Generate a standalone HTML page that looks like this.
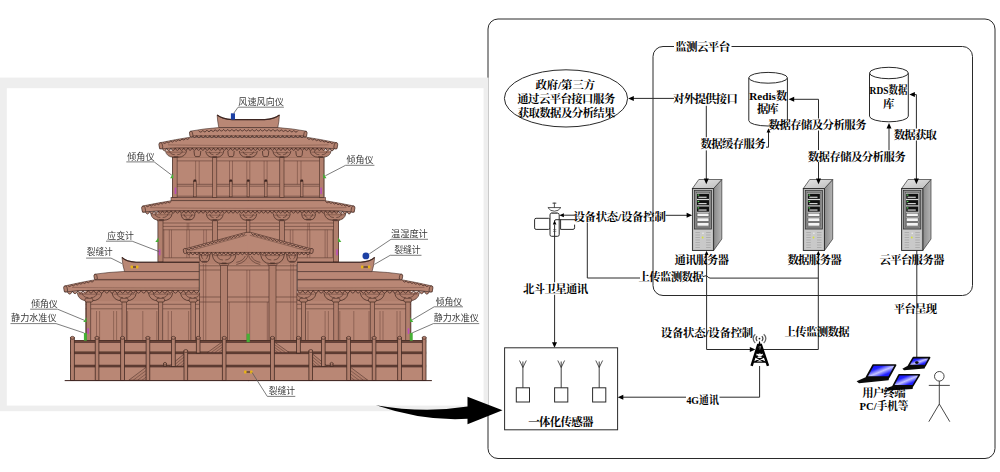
<!DOCTYPE html>
<html lang="zh"><head><meta charset="utf-8"><title>监测云平台</title>
<style>
html,body{margin:0;padding:0;background:#fff}
body{width:1000px;height:472px;overflow:hidden;font-family:"Liberation Serif",serif}
svg{display:block}
.t{font-family:"Liberation Serif","Noto Serif CJK SC",serif;font-weight:bold;fill:#000}
.k{font-family:"Liberation Sans","Noto Sans CJK SC",sans-serif;fill:#3a3a3a}
</style></head><body>
<svg width="1000" height="472" viewBox="0 0 1000 472">
<defs>

<linearGradient id="srvSide" x1="0" y1="0" x2="1" y2="0"><stop offset="0" stop-color="#8a8a8a"/><stop offset="1" stop-color="#b4b4b4"/></linearGradient>
<linearGradient id="srvTop" x1="0" y1="0" x2="1" y2="1"><stop offset="0" stop-color="#e6e6e6"/><stop offset="1" stop-color="#bdbdbd"/></linearGradient>
<linearGradient id="scr" x1="0" y1="0" x2="1" y2="1"><stop offset="0" stop-color="#0808f4"/><stop offset="0.32" stop-color="#2222ff"/><stop offset="0.52" stop-color="#c4c4ff"/><stop offset="0.72" stop-color="#2222ff"/><stop offset="1" stop-color="#0808f4"/></linearGradient>
<clipPath id="hclip"><rect x="0" y="80" width="248.65" height="330"/></clipPath><filter id="soft" x="-5%" y="-5%" width="110%" height="110%"><feGaussianBlur stdDeviation="0.45"/></filter>
</defs>
<rect width="1000" height="472" fill="#fff"/>
<rect x="488" y="19" width="507" height="439.5" rx="10" ry="10" fill="#fff" stroke="#2a2a2a" stroke-width="1"/>
<rect x="653" y="46.5" width="319.5" height="249" rx="10" ry="10" fill="none" stroke="#2a2a2a" stroke-width="1"/>
<rect x="674" y="40" width="57.5" height="13" fill="#fff"/>
<text class="t" x="675.2" y="51.11" font-size="11.5" textLength="55">监测云平台</text>
<g transform="translate(692.4,188.5)"><polygon points="21.2,0 29.4,-9 29.4,50.5 21.2,62" fill="url(#srvSide)" stroke="#333" stroke-width="0.7"/><polygon points="0,0 6.3999999999999995,-9 29.4,-9 21.2,0" fill="url(#srvTop)" stroke="#333" stroke-width="0.7"/><rect x="0" y="0" width="21.2" height="62" fill="#b9b9b9" stroke="#2b2b2b" stroke-width="0.9"/><rect x="2" y="2" width="17.2" height="38.5" fill="#8d8d8d" stroke="#2b2b2b" stroke-width="0.7"/><rect x="3.8" y="4" width="13.6" height="34.5" fill="#d9d9d9" stroke="#444" stroke-width="0.5"/><rect x="4.6" y="5.2" width="12.0" height="5.2" fill="#111"/><rect x="6" y="8.2" width="8.2" height="1.1" fill="#e8e8e8"/><rect x="5.2" y="6.0" width="1.6" height="1.2" fill="#5dd35d"/><rect x="4.6" y="11.6" width="12.0" height="5.2" fill="#111"/><rect x="6" y="14.6" width="8.2" height="1.1" fill="#e8e8e8"/><rect x="5.2" y="12.4" width="1.6" height="1.2" fill="#5dd35d"/><rect x="4.6" y="18.0" width="12.0" height="5.2" fill="#111"/><rect x="6" y="21.0" width="8.2" height="1.1" fill="#e8e8e8"/><rect x="5.2" y="18.8" width="1.6" height="1.2" fill="#5dd35d"/><rect x="4.6" y="24.6" width="12.0" height="3.4" fill="#f4f4f4" stroke="#333" stroke-width="0.6"/><rect x="4.6" y="29.4" width="12.0" height="3.4" fill="#f4f4f4" stroke="#333" stroke-width="0.6"/><rect x="4.6" y="34.2" width="12.0" height="3.4" fill="#f4f4f4" stroke="#333" stroke-width="0.6"/><rect x="1.2" y="41.5" width="18.8" height="19.4" fill="#c9c9c9"/><line x1="3" y1="44.0" x2="7.5" y2="44.0" stroke="#9a9a9a" stroke-width="0.6"/><line x1="13.7" y1="44.0" x2="18.2" y2="44.0" stroke="#9a9a9a" stroke-width="0.6"/><line x1="3" y1="46.5" x2="7.5" y2="46.5" stroke="#9a9a9a" stroke-width="0.6"/><line x1="13.7" y1="46.5" x2="18.2" y2="46.5" stroke="#9a9a9a" stroke-width="0.6"/><line x1="3" y1="49.0" x2="7.5" y2="49.0" stroke="#9a9a9a" stroke-width="0.6"/><line x1="13.7" y1="49.0" x2="18.2" y2="49.0" stroke="#9a9a9a" stroke-width="0.6"/><line x1="3" y1="51.5" x2="7.5" y2="51.5" stroke="#9a9a9a" stroke-width="0.6"/><line x1="13.7" y1="51.5" x2="18.2" y2="51.5" stroke="#9a9a9a" stroke-width="0.6"/><line x1="3" y1="54.0" x2="7.5" y2="54.0" stroke="#9a9a9a" stroke-width="0.6"/><line x1="13.7" y1="54.0" x2="18.2" y2="54.0" stroke="#9a9a9a" stroke-width="0.6"/><line x1="3" y1="56.5" x2="7.5" y2="56.5" stroke="#9a9a9a" stroke-width="0.6"/><line x1="13.7" y1="56.5" x2="18.2" y2="56.5" stroke="#9a9a9a" stroke-width="0.6"/><line x1="3" y1="59.0" x2="7.5" y2="59.0" stroke="#9a9a9a" stroke-width="0.6"/><line x1="13.7" y1="59.0" x2="18.2" y2="59.0" stroke="#9a9a9a" stroke-width="0.6"/><circle cx="10.2" cy="49" r="0.9" fill="#d8e23a"/><circle cx="10.6" cy="44.8" r="0.8" fill="#eee"/></g>
<g transform="translate(803.3,188.5)"><polygon points="21.2,0 29.4,-9 29.4,50.5 21.2,62" fill="url(#srvSide)" stroke="#333" stroke-width="0.7"/><polygon points="0,0 6.3999999999999995,-9 29.4,-9 21.2,0" fill="url(#srvTop)" stroke="#333" stroke-width="0.7"/><rect x="0" y="0" width="21.2" height="62" fill="#b9b9b9" stroke="#2b2b2b" stroke-width="0.9"/><rect x="2" y="2" width="17.2" height="38.5" fill="#8d8d8d" stroke="#2b2b2b" stroke-width="0.7"/><rect x="3.8" y="4" width="13.6" height="34.5" fill="#d9d9d9" stroke="#444" stroke-width="0.5"/><rect x="4.6" y="5.2" width="12.0" height="5.2" fill="#111"/><rect x="6" y="8.2" width="8.2" height="1.1" fill="#e8e8e8"/><rect x="5.2" y="6.0" width="1.6" height="1.2" fill="#5dd35d"/><rect x="4.6" y="11.6" width="12.0" height="5.2" fill="#111"/><rect x="6" y="14.6" width="8.2" height="1.1" fill="#e8e8e8"/><rect x="5.2" y="12.4" width="1.6" height="1.2" fill="#5dd35d"/><rect x="4.6" y="18.0" width="12.0" height="5.2" fill="#111"/><rect x="6" y="21.0" width="8.2" height="1.1" fill="#e8e8e8"/><rect x="5.2" y="18.8" width="1.6" height="1.2" fill="#5dd35d"/><rect x="4.6" y="24.6" width="12.0" height="3.4" fill="#f4f4f4" stroke="#333" stroke-width="0.6"/><rect x="4.6" y="29.4" width="12.0" height="3.4" fill="#f4f4f4" stroke="#333" stroke-width="0.6"/><rect x="4.6" y="34.2" width="12.0" height="3.4" fill="#f4f4f4" stroke="#333" stroke-width="0.6"/><rect x="1.2" y="41.5" width="18.8" height="19.4" fill="#c9c9c9"/><line x1="3" y1="44.0" x2="7.5" y2="44.0" stroke="#9a9a9a" stroke-width="0.6"/><line x1="13.7" y1="44.0" x2="18.2" y2="44.0" stroke="#9a9a9a" stroke-width="0.6"/><line x1="3" y1="46.5" x2="7.5" y2="46.5" stroke="#9a9a9a" stroke-width="0.6"/><line x1="13.7" y1="46.5" x2="18.2" y2="46.5" stroke="#9a9a9a" stroke-width="0.6"/><line x1="3" y1="49.0" x2="7.5" y2="49.0" stroke="#9a9a9a" stroke-width="0.6"/><line x1="13.7" y1="49.0" x2="18.2" y2="49.0" stroke="#9a9a9a" stroke-width="0.6"/><line x1="3" y1="51.5" x2="7.5" y2="51.5" stroke="#9a9a9a" stroke-width="0.6"/><line x1="13.7" y1="51.5" x2="18.2" y2="51.5" stroke="#9a9a9a" stroke-width="0.6"/><line x1="3" y1="54.0" x2="7.5" y2="54.0" stroke="#9a9a9a" stroke-width="0.6"/><line x1="13.7" y1="54.0" x2="18.2" y2="54.0" stroke="#9a9a9a" stroke-width="0.6"/><line x1="3" y1="56.5" x2="7.5" y2="56.5" stroke="#9a9a9a" stroke-width="0.6"/><line x1="13.7" y1="56.5" x2="18.2" y2="56.5" stroke="#9a9a9a" stroke-width="0.6"/><line x1="3" y1="59.0" x2="7.5" y2="59.0" stroke="#9a9a9a" stroke-width="0.6"/><line x1="13.7" y1="59.0" x2="18.2" y2="59.0" stroke="#9a9a9a" stroke-width="0.6"/><circle cx="10.2" cy="49" r="0.9" fill="#d8e23a"/><circle cx="10.6" cy="44.8" r="0.8" fill="#eee"/></g>
<g transform="translate(901.6,188.5)"><polygon points="21.2,0 29.4,-9 29.4,50.5 21.2,62" fill="url(#srvSide)" stroke="#333" stroke-width="0.7"/><polygon points="0,0 6.3999999999999995,-9 29.4,-9 21.2,0" fill="url(#srvTop)" stroke="#333" stroke-width="0.7"/><rect x="0" y="0" width="21.2" height="62" fill="#b9b9b9" stroke="#2b2b2b" stroke-width="0.9"/><rect x="2" y="2" width="17.2" height="38.5" fill="#8d8d8d" stroke="#2b2b2b" stroke-width="0.7"/><rect x="3.8" y="4" width="13.6" height="34.5" fill="#d9d9d9" stroke="#444" stroke-width="0.5"/><rect x="4.6" y="5.2" width="12.0" height="5.2" fill="#111"/><rect x="6" y="8.2" width="8.2" height="1.1" fill="#e8e8e8"/><rect x="5.2" y="6.0" width="1.6" height="1.2" fill="#5dd35d"/><rect x="4.6" y="11.6" width="12.0" height="5.2" fill="#111"/><rect x="6" y="14.6" width="8.2" height="1.1" fill="#e8e8e8"/><rect x="5.2" y="12.4" width="1.6" height="1.2" fill="#5dd35d"/><rect x="4.6" y="18.0" width="12.0" height="5.2" fill="#111"/><rect x="6" y="21.0" width="8.2" height="1.1" fill="#e8e8e8"/><rect x="5.2" y="18.8" width="1.6" height="1.2" fill="#5dd35d"/><rect x="4.6" y="24.6" width="12.0" height="3.4" fill="#f4f4f4" stroke="#333" stroke-width="0.6"/><rect x="4.6" y="29.4" width="12.0" height="3.4" fill="#f4f4f4" stroke="#333" stroke-width="0.6"/><rect x="4.6" y="34.2" width="12.0" height="3.4" fill="#f4f4f4" stroke="#333" stroke-width="0.6"/><rect x="1.2" y="41.5" width="18.8" height="19.4" fill="#c9c9c9"/><line x1="3" y1="44.0" x2="7.5" y2="44.0" stroke="#9a9a9a" stroke-width="0.6"/><line x1="13.7" y1="44.0" x2="18.2" y2="44.0" stroke="#9a9a9a" stroke-width="0.6"/><line x1="3" y1="46.5" x2="7.5" y2="46.5" stroke="#9a9a9a" stroke-width="0.6"/><line x1="13.7" y1="46.5" x2="18.2" y2="46.5" stroke="#9a9a9a" stroke-width="0.6"/><line x1="3" y1="49.0" x2="7.5" y2="49.0" stroke="#9a9a9a" stroke-width="0.6"/><line x1="13.7" y1="49.0" x2="18.2" y2="49.0" stroke="#9a9a9a" stroke-width="0.6"/><line x1="3" y1="51.5" x2="7.5" y2="51.5" stroke="#9a9a9a" stroke-width="0.6"/><line x1="13.7" y1="51.5" x2="18.2" y2="51.5" stroke="#9a9a9a" stroke-width="0.6"/><line x1="3" y1="54.0" x2="7.5" y2="54.0" stroke="#9a9a9a" stroke-width="0.6"/><line x1="13.7" y1="54.0" x2="18.2" y2="54.0" stroke="#9a9a9a" stroke-width="0.6"/><line x1="3" y1="56.5" x2="7.5" y2="56.5" stroke="#9a9a9a" stroke-width="0.6"/><line x1="13.7" y1="56.5" x2="18.2" y2="56.5" stroke="#9a9a9a" stroke-width="0.6"/><line x1="3" y1="59.0" x2="7.5" y2="59.0" stroke="#9a9a9a" stroke-width="0.6"/><line x1="13.7" y1="59.0" x2="18.2" y2="59.0" stroke="#9a9a9a" stroke-width="0.6"/><circle cx="10.2" cy="49" r="0.9" fill="#d8e23a"/><circle cx="10.6" cy="44.8" r="0.8" fill="#eee"/></g>
<ellipse cx="566" cy="98.4" rx="61.6" ry="28.6" fill="#fff" stroke="#2a2a2a" stroke-width="1"/>
<text class="t" x="535.4" y="88.67" font-size="11.4" textLength="59.7">政府/第三方</text>
<text class="t" x="517.3" y="102.87" font-size="11.4" textLength="97.8">通过云平台接口服务</text>
<text class="t" x="517.7" y="116.67" font-size="11.4" textLength="97.8">获取数据及分析结果</text>
<polyline points="674.0,98.4 632.0,98.4" fill="none" stroke="#2a2a2a" stroke-width="1" />
<polygon points="628.2,98.4 633.8,95.9 633.8,100.9" fill="#000"/>
<text class="t" x="672.9" y="102.77" font-size="11.4" textLength="65.1">对外提供接口</text>
<polyline points="706.3,105.8 706.3,137.3" fill="none" stroke="#2a2a2a" stroke-width="1" />
<polyline points="706.3,150.4 706.3,180.0" fill="none" stroke="#2a2a2a" stroke-width="1" />
<polygon points="706.3,184.2 703.8,178.6 708.8,178.6" fill="#000"/>
<text class="t" x="700.6" y="148.07" font-size="11.4" textLength="65.1">数据缓存服务</text>
<polyline points="766.0,147.2 768.5,147.2 768.5,132.0" fill="none" stroke="#2a2a2a" stroke-width="1" />
<polygon points="768.5,128.2 766.6,132.4 770.4,132.4" fill="#000"/>
<path d="M748.8,77.8 L748.8,120.6 A19.3,5.4 0 0 0 787.4,120.6 L787.4,77.8" fill="#fff" stroke="#2a2a2a" stroke-width="1"/>
<ellipse cx="768.1" cy="77.8" rx="19.3" ry="5.4" fill="#fff" stroke="#2a2a2a" stroke-width="1"/>
<text class="t" x="749.3" y="99.77" font-size="11.4" textLength="37.8" lengthAdjust="spacingAndGlyphs">Redis数</text>
<text class="t" x="757.1" y="113.47" font-size="11.4" textLength="21.5">据库</text>
<path d="M869.5,73 L869.5,116.2 A19.4,5.6 0 0 0 908.3,116.2 L908.3,73" fill="#fff" stroke="#2a2a2a" stroke-width="1"/>
<ellipse cx="888.9" cy="73" rx="19.4" ry="5.7" fill="#fff" stroke="#2a2a2a" stroke-width="1"/>
<text class="t" x="869.6" y="93.97" font-size="11.4" textLength="37.8" lengthAdjust="spacingAndGlyphs">RDS数据</text>
<text class="t" x="882.9" y="107.67" font-size="11.4">库</text>
<polyline points="793.0,99.3 818.5,99.3 818.5,118.5" fill="none" stroke="#2a2a2a" stroke-width="1" />
<polygon points="788.6,99.3 794.2,96.8 794.2,101.8" fill="#000"/>
<polyline points="818.5,130.5 818.5,150.0" fill="none" stroke="#2a2a2a" stroke-width="1" />
<polyline points="818.5,162.0 818.5,180.0" fill="none" stroke="#2a2a2a" stroke-width="1" />
<polygon points="818.5,184.2 816.0,178.6 821.0,178.6" fill="#000"/>
<text class="t" x="768.6" y="129.07" font-size="11.4" textLength="97.8">数据存储及分析服务</text>
<text class="t" x="807.8" y="160.57" font-size="11.4" textLength="97.8">数据存储及分析服务</text>
<polyline points="889.0,127.0 889.0,150.3" fill="none" stroke="#2a2a2a" stroke-width="1" />
<polygon points="889.0,123.0 886.5,128.6 891.5,128.6" fill="#000"/>
<polyline points="913.5,94.6 916.4,94.6 916.4,128.5" fill="none" stroke="#2a2a2a" stroke-width="1" />
<polygon points="909.3,94.6 914.9,92.1 914.9,97.1" fill="#000"/>
<polyline points="916.4,140.5 916.4,180.0" fill="none" stroke="#2a2a2a" stroke-width="1" />
<polygon points="916.4,184.2 913.9,178.6 918.9,178.6" fill="#000"/>
<text class="t" x="893.7" y="139.07" font-size="11.4" textLength="43.3">数据获取</text>
<polyline points="706.6,254.0 706.6,349.5 751.0,349.5" fill="none" stroke="#2a2a2a" stroke-width="1" />
<polygon points="706.6,250.8 704.7,255.0 708.5,255.0" fill="#000"/>
<polygon points="755.4,349.5 749.8,347.0 749.8,352.0" fill="#000"/>
<polyline points="818.3,254.0 818.3,349.5 762.5,349.5" fill="none" stroke="#2a2a2a" stroke-width="1" />
<polygon points="818.3,250.8 816.4,255.0 820.2,255.0" fill="#000"/>
<polyline points="916.8,250.8 916.8,358.5" fill="none" stroke="#2a2a2a" stroke-width="1" />
<text class="t" x="674.6" y="263.87" font-size="11.4" textLength="54.2">通讯服务器</text>
<text class="t" x="787.4" y="263.87" font-size="11.4" textLength="54.2">数据服务器</text>
<text class="t" x="879.4" y="263.87" font-size="11.4" textLength="65.1">云平台服务器</text>
<path d="M703,276.6 Q705,276 706.6,275.6 Q708,277.8 710,278.1 L818.3,278.1" fill="none" stroke="#2a2a2a" stroke-width="1"/>
<text class="t" x="638.5" y="281.47" font-size="11.4" textLength="65.1">上传监测数据</text>
<polyline points="640.0,278.0 587.3,278.0 587.3,222.6" fill="none" stroke="#2a2a2a" stroke-width="1" />
<rect x="534.6" y="218.3" width="15.4" height="11.1" rx="1.5" fill="#fff" stroke="#2a2a2a" stroke-width="1"/><path d="M560.6,219.5 L560.6,229.4 L573,229.4 Q574.6,229.4 574.6,227.8 L574.6,224.6" fill="none" stroke="#2a2a2a" stroke-width="1"/><rect x="550" y="213.2" width="9.2" height="23.1" rx="1.6" fill="#fff" stroke="#2a2a2a" stroke-width="1"/><path d="M547.9,207.6 L560.9,207.6 Q558.5,211.2 554.4,211.2 Q550.3,211.2 547.9,207.6 Z" fill="#fff" stroke="#2a2a2a" stroke-width="0.8"/><path d="M551.2,212.4 Q554.4,213.4 557.6,212.4" fill="none" stroke="#666" stroke-width="0.7"/><polyline points="554.4,207.6 554.4,203.4" fill="none" stroke="#2a2a2a" stroke-width="0.8" /><ellipse cx="554.4" cy="203.1" rx="2.2" ry="0.7" fill="#2a2a2a"/><polyline points="575.0,219.7 556.0,219.7" fill="none" stroke="#2a2a2a" stroke-width="1" /><path d="M556,219.7 Q554.6,219.7 554.6,221" fill="none" stroke="#2a2a2a" stroke-width="1"/><polygon points="554.6,220.2 552.8,224.4 556.4,224.4" fill="#000"/><polyline points="553.0,229.6 556.3,229.6" fill="none" stroke="#555" stroke-width="0.6" /><polyline points="553.0,231.4 556.3,231.4" fill="none" stroke="#555" stroke-width="0.6" />
<polyline points="563.5,215.2 575.0,215.2" fill="none" stroke="#2a2a2a" stroke-width="1" />
<polygon points="559.3,215.2 563.9,213.2 563.9,217.2" fill="#000"/>
<polyline points="665.5,215.3 688.0,215.3" fill="none" stroke="#2a2a2a" stroke-width="1" />
<polygon points="692.2,215.3 686.6,212.8 686.6,217.8" fill="#000"/>
<text class="t" x="573.4" y="221.47" font-size="11.4" textLength="92.4">设备状态/设备控制</text>
<polyline points="554.6,224.5 554.6,282.3" fill="none" stroke="#2a2a2a" stroke-width="1" />
<polyline points="554.6,294.8 554.6,343.5" fill="none" stroke="#2a2a2a" stroke-width="1" />
<polygon points="554.5,347.8 552.0,342.2 557.0,342.2" fill="#000"/>
<text class="t" x="523.1" y="293.07" font-size="11.4" textLength="65.1">北斗卫星通讯</text>
<rect x="504.6" y="347.8" width="113" height="82" fill="#fff" stroke="#2a2a2a" stroke-width="1"/>
<rect x="516.3" y="387.8" width="13.2" height="14.2" fill="#fff" stroke="#2a2a2a" stroke-width="1"/>
<polyline points="522.9,387.8 522.9,361.5" fill="none" stroke="#2a2a2a" stroke-width="0.9" />
<polyline points="519.5,360.5 522.9,367.5 526.3,360.5" fill="none" stroke="#2a2a2a" stroke-width="0.8" />
<rect x="554.6" y="387.8" width="13.2" height="14.2" fill="#fff" stroke="#2a2a2a" stroke-width="1"/>
<polyline points="561.2,387.8 561.2,361.5" fill="none" stroke="#2a2a2a" stroke-width="0.9" />
<polyline points="557.8,360.5 561.2,367.5 564.6,360.5" fill="none" stroke="#2a2a2a" stroke-width="0.8" />
<rect x="592.6" y="387.8" width="13.2" height="14.2" fill="#fff" stroke="#2a2a2a" stroke-width="1"/>
<polyline points="599.2,387.8 599.2,361.5" fill="none" stroke="#2a2a2a" stroke-width="0.9" />
<polyline points="595.8,360.5 599.2,367.5 602.6,360.5" fill="none" stroke="#2a2a2a" stroke-width="0.8" />
<text class="t" x="528.2" y="426.27" font-size="11.4" textLength="65.1">一体化传感器</text>
<text class="t" x="893.8" y="312.77" font-size="11.4" textLength="43.3">平台呈现</text>
<text class="t" x="660.8" y="336.97" font-size="11.4" textLength="92.4">设备状态/设备控制</text>
<text class="t" x="784.6" y="335.67" font-size="11.4" textLength="65.1">上传监测数据</text>
<path d="M757.2,336.3 A2.9,2.9 0 0 0 757.2,340.9" fill="none" stroke="#3c3c3c" stroke-width="1.2"/><path d="M761.8,336.3 A2.9,2.9 0 0 1 761.8,340.9" fill="none" stroke="#3c3c3c" stroke-width="1.2"/><path d="M755.3,334.3 A5.4,5.4 0 0 0 755.3,342.9" fill="none" stroke="#666" stroke-width="1.3"/><path d="M763.7,334.3 A5.4,5.4 0 0 1 763.7,342.9" fill="none" stroke="#666" stroke-width="1.3"/><circle cx="759.5" cy="338.6" r="0.9" fill="#222"/><polygon points="759.5,340.6 755.6,353 763.6,353" fill="#000"/><path d="M758.4,344 L751.6,365.8 M760.6,344 L768,365.8" stroke="#000" stroke-width="2.5" fill="none" stroke-linecap="butt"/><path d="M755,356.4 L764.2,356.4 M753.2,362.2 L766,362.2 M756,352.5 L764.4,356.8 L753.6,362.4 M763.4,352.5 L755,356.8 L765.8,362.4" stroke="#000" stroke-width="1.2" fill="none"/><ellipse cx="759.7" cy="355.4" rx="2.3" ry="1.3" fill="#fff"/><path d="M758.6,347.2 L760.6,346.4 L759.8,349.4" stroke="#fff" stroke-width="0.5" fill="none"/>
<polyline points="759.6,366.0 759.6,397.2 719.5,397.2" fill="none" stroke="#2a2a2a" stroke-width="1" />
<polyline points="686.0,397.2 622.0,397.2" fill="none" stroke="#2a2a2a" stroke-width="1" />
<polygon points="617.7,397.2 623.3,394.7 623.3,399.7" fill="#000"/>
<text class="t" x="686.4" y="404.07" font-size="11.4" textLength="32.4" lengthAdjust="spacingAndGlyphs">4G通讯</text>
<polygon points="866.2,377.0 889.4,377.0 888.6,380.3 859.0,383.2 856.6,381.2" fill="#0a0a0a"/><polygon points="873.2,365.0 895.6,365.0 889.0,377.0 866.6,377.0" fill="url(#scr)" stroke="#0a0a0a" stroke-width="1.6" stroke-linejoin="round"/>
<polygon points="908.2,365.6 925.6,365.6 924.6,368.4 904.0,370.2 902.4,368.8" fill="#0a0a0a"/><polygon points="913.3,357.6 929.6,357.6 925.2,365.6 908.6,365.6" fill="url(#scr)" stroke="#0a0a0a" stroke-width="1.6" stroke-linejoin="round"/>
<polygon points="893.0,385.8 913.2,385.8 912.6,389.0 888.0,390.4 885.8,388.4" fill="#0a0a0a"/><polygon points="899.0,374.8 919.4,374.8 912.8,385.8 893.2,385.8" fill="url(#scr)" stroke="#0a0a0a" stroke-width="1.6" stroke-linejoin="round"/>
<ellipse cx="916.8" cy="362.6" rx="1.8" ry="1.4" fill="#0a0a0a"/>
<text class="t" x="862.3" y="397.07" font-size="11.4" textLength="43.3">用户终端</text>
<text class="t" x="859.6" y="410.47" font-size="11.4" textLength="48.8" lengthAdjust="spacingAndGlyphs">PC/手机等</text>
<circle cx="939.3" cy="376.3" r="4.8" fill="#fff" stroke="#333" stroke-width="0.9"/>
<polyline points="939.3,381.1 939.3,404.0" fill="none" stroke="#333" stroke-width="0.9" />
<polyline points="928.8,385.4 949.8,385.4" fill="none" stroke="#333" stroke-width="0.9" />
<polyline points="928.8,421.7 939.3,404.0 949.8,421.7" fill="none" stroke="#333" stroke-width="0.9" />
<rect x="0" y="77.6" width="488.6" height="333.6" fill="#eeeeee"/>
<rect x="6.8" y="88.2" width="476.8" height="317.4" fill="#ffffff"/>
<g filter="url(#soft)">
<g id="bhalf" clip-path="url(#hclip)"><rect x="158.0" y="219.0" width="93.3" height="43.5" fill="#b98775" stroke="#3e2620" stroke-width="0.5" />
<line x1="158.0" y1="223.0" x2="251.3" y2="223.0" stroke="#3e2620" stroke-width="0.45"/>
<line x1="158.0" y1="226.4" x2="251.3" y2="226.4" stroke="#3e2620" stroke-width="0.45"/>
<line x1="158.0" y1="229.8" x2="251.3" y2="229.8" stroke="#3e2620" stroke-width="0.45"/>
<line x1="163.9" y1="257.8" x2="206.3" y2="257.8" stroke="#3e2620" stroke-width="0.45"/>
<line x1="163.9" y1="229.8" x2="163.9" y2="257.8" stroke="#5e3b31" stroke-width="0.45"/>
<line x1="169.3" y1="229.8" x2="169.3" y2="257.8" stroke="#5e3b31" stroke-width="0.45"/>
<line x1="171.5" y1="229.8" x2="171.5" y2="257.8" stroke="#5e3b31" stroke-width="0.45"/>
<line x1="186.8" y1="229.8" x2="186.8" y2="257.8" stroke="#5e3b31" stroke-width="0.45"/>
<line x1="189.3" y1="229.8" x2="189.3" y2="257.8" stroke="#5e3b31" stroke-width="0.45"/>
<line x1="203.7" y1="229.8" x2="203.7" y2="257.8" stroke="#5e3b31" stroke-width="0.45"/>
<line x1="206.3" y1="229.8" x2="206.3" y2="257.8" stroke="#5e3b31" stroke-width="0.45"/>
<line x1="187.2" y1="223.0" x2="187.2" y2="229.8" stroke="#5e3b31" stroke-width="0.4"/>
<line x1="188.8" y1="223.0" x2="188.8" y2="229.8" stroke="#5e3b31" stroke-width="0.4"/>
<rect x="158.0" y="220.5" width="5.0" height="41.5" fill="#b17f6d" stroke="#3e2620" stroke-width="0.55" /><rect x="157.0" y="218.9" width="7.0" height="1.8" fill="#b17f6d" stroke="#3e2620" stroke-width="0.5" rx="0.6"/>
<rect x="212.3" y="220.5" width="5.0" height="24.5" fill="#b17f6d" stroke="#3e2620" stroke-width="0.55" /><rect x="211.3" y="218.9" width="7.0" height="1.8" fill="#b17f6d" stroke="#3e2620" stroke-width="0.5" rx="0.6"/>
<rect x="246.7" y="214.0" width="3.2" height="19.0" fill="#b17f6d" stroke="#3e2620" stroke-width="0.5" />
<rect x="158.0" y="209.5" width="93.3" height="11.0" fill="#b17f6d" stroke="none" stroke-width="0.5" />
<path d="M150.7,213.2 Q151.8,220.2 159.5,220.2 L163.5,220.2 Q171.2,220.2 172.3,213.2" fill="#b17f6d" stroke="#3e2620" stroke-width="0.7"/><path d="M155.0,213.6 Q155.6,217.4 160.3,217.5 M168.0,213.6 Q167.4,217.4 162.7,217.5" fill="none" stroke="#3e2620" stroke-width="0.55"/><path d="M152.3,214.8 L170.7,214.8" fill="none" stroke="#3e2620" stroke-width="0.5" opacity="0.7"/><rect x="159.1" y="219.0" width="4.8" height="1.6" fill="#3e2620" opacity="0.55"/>
<path d="M181.0,213.6 Q181.7,219.8 186.0,219.8 L190.0,219.8 Q194.3,219.8 195.0,213.6" fill="#b17f6d" stroke="#3e2620" stroke-width="0.7"/><path d="M183.8,214.0 Q184.2,217.3 186.8,217.4 M192.2,214.0 Q191.8,217.3 189.2,217.4" fill="none" stroke="#3e2620" stroke-width="0.55"/><path d="M182.1,215.2 L193.9,215.2" fill="none" stroke="#3e2620" stroke-width="0.5" opacity="0.7"/><rect x="185.6" y="218.6" width="4.8" height="1.6" fill="#3e2620" opacity="0.55"/>
<path d="M206.3,213.6 Q207.2,220.2 212.8,220.2 L216.8,220.2 Q222.5,220.2 223.3,213.6" fill="#b17f6d" stroke="#3e2620" stroke-width="0.7"/><path d="M209.7,214.0 Q210.1,217.6 213.6,217.7 M219.9,214.0 Q219.5,217.6 216.0,217.7" fill="none" stroke="#3e2620" stroke-width="0.55"/><path d="M207.6,215.2 L222.0,215.2" fill="none" stroke="#3e2620" stroke-width="0.5" opacity="0.7"/><rect x="212.4" y="219.0" width="4.8" height="1.6" fill="#3e2620" opacity="0.55"/>
<path d="M239.8,213.6 Q240.7,220.2 246.3,220.2 L250.3,220.2 Q256.0,220.2 256.8,213.6" fill="#b17f6d" stroke="#3e2620" stroke-width="0.7"/><path d="M243.2,214.0 Q243.6,217.6 247.1,217.7 M253.4,214.0 Q253.0,217.6 249.5,217.7" fill="none" stroke="#3e2620" stroke-width="0.55"/><path d="M241.1,215.2 L255.5,215.2" fill="none" stroke="#3e2620" stroke-width="0.5" opacity="0.7"/><rect x="245.9" y="219.0" width="4.8" height="1.6" fill="#3e2620" opacity="0.55"/>
<rect x="171.0" y="197.4" width="80.3" height="3.4" fill="#b17f6d" stroke="#3e2620" stroke-width="0.5" />
<path d="M172.2,200.6 Q158.8,202.7 142.4,206.0 L142.4,212.2 Q158.0,210.6 173.7,210.8 L251.3,210.8 L251.3,200.6 Z" fill="#b98775" stroke="#3e2620" stroke-width="0.6" />
<path d="M145.4,211.9 Q147.5,216.3 149.7,211.6 Q151.8,216.0 154.0,211.3 Q156.1,215.7 158.2,211.0 Q160.4,215.6 162.5,210.9 Q164.6,215.4 166.8,210.8 Q168.9,215.4 171.1,210.8 Q173.2,215.4 175.3,210.8 Q177.5,215.4 179.6,210.8 Q181.7,215.4 183.9,210.8 Q186.0,215.4 188.2,210.8 Q190.3,215.4 192.4,210.8 Q194.6,215.4 196.7,210.8 Q198.8,215.4 201.0,210.8 Q203.1,215.4 205.3,210.8 Q207.4,215.4 209.5,210.8 Q211.7,215.4 213.8,210.8 Q216.0,215.4 218.1,210.8 Q220.2,215.4 222.4,210.8 Q224.5,215.4 226.6,210.8 Q228.8,215.4 230.9,210.8 Q233.1,215.4 235.2,210.8 Q237.3,215.4 239.5,210.8 Q241.6,215.4 243.7,210.8 Q245.9,215.4 248.0,210.8 Q250.2,215.4 252.3,210.8" fill="#b98775" stroke="#3e2620" stroke-width="0.75" stroke-linejoin="round"/><polyline points="145.4,211.9 154.3,211.2 163.2,210.9 172.1,210.8 181.0,210.8 189.9,210.8 198.9,210.8 207.8,210.8 216.7,210.8 225.6,210.8 234.5,210.8 243.4,210.8 252.3,210.8" fill="none" stroke="#3e2620" stroke-width="0.5" opacity="0.8"/>
<path d="M146.0,205.9 Q147.8,207.9 149.6,205.2 Q151.4,207.2 153.2,204.5 Q155.0,206.5 156.8,203.8 Q158.6,205.9 160.4,203.2 Q162.2,205.2 164.0,202.5 Q165.8,204.6 167.6,201.9 Q169.4,204.0 171.2,201.4" fill="#b98775" stroke="#3e2620" stroke-width="0.75" stroke-linejoin="round"/>
<path d="M150,207.6 Q165,208.2 251.3,208.3" fill="none" stroke="#5e3b31" stroke-width="0.4" />
<rect x="141.9" y="206.1" width="3.4" height="6.2" rx="1.7" fill="#b17f6d" stroke="#3e2620" stroke-width="0.6" transform="rotate(-12 143.6 209.2)"/>
<rect x="172.5" y="157.0" width="78.8" height="40.6" fill="#b98775" stroke="#3e2620" stroke-width="0.5" />
<line x1="172.5" y1="160.9" x2="251.3" y2="160.9" stroke="#3e2620" stroke-width="0.45"/>
<line x1="177.0" y1="184.3" x2="251.3" y2="184.3" stroke="#3e2620" stroke-width="0.5"/>
<line x1="177.0" y1="186.2" x2="251.3" y2="186.2" stroke="#3e2620" stroke-width="0.45"/>
<line x1="177.0" y1="196.2" x2="251.3" y2="196.2" stroke="#3e2620" stroke-width="0.5"/>
<line x1="195.6" y1="160.9" x2="195.6" y2="184.3" stroke="#5e3b31" stroke-width="0.45"/>
<line x1="199.2" y1="160.9" x2="199.2" y2="184.3" stroke="#5e3b31" stroke-width="0.45"/>
<line x1="229.5" y1="160.9" x2="229.5" y2="184.3" stroke="#5e3b31" stroke-width="0.45"/>
<line x1="232.5" y1="160.9" x2="232.5" y2="184.3" stroke="#5e3b31" stroke-width="0.45"/>
<line x1="246.8" y1="160.9" x2="246.8" y2="184.3" stroke="#5e3b31" stroke-width="0.45"/>
<line x1="249.8" y1="160.9" x2="249.8" y2="184.3" stroke="#5e3b31" stroke-width="0.45"/>
<rect x="193.6" y="181.2" width="2.6" height="15.6" fill="#b17f6d" stroke="#3e2620" stroke-width="0.5" />
<rect x="193.4" y="179.6" width="3.0" height="2.0" fill="#3e2620" stroke="none" stroke-width="0.5" rx="1"/>
<rect x="229.5" y="181.2" width="2.6" height="15.6" fill="#b17f6d" stroke="#3e2620" stroke-width="0.5" />
<rect x="229.3" y="179.6" width="3.0" height="2.0" fill="#3e2620" stroke="none" stroke-width="0.5" rx="1"/>
<rect x="247.0" y="181.2" width="2.6" height="15.6" fill="#b17f6d" stroke="#3e2620" stroke-width="0.5" />
<rect x="246.8" y="179.6" width="3.0" height="2.0" fill="#3e2620" stroke="none" stroke-width="0.5" rx="1"/>
<rect x="172.7" y="157.5" width="4.4" height="39.9" fill="#b17f6d" stroke="#3e2620" stroke-width="0.55" />
<rect x="212.6" y="157.5" width="4.2" height="39.9" fill="#b17f6d" stroke="#3e2620" stroke-width="0.55" />
<rect x="172.5" y="146.5" width="78.8" height="10.9" fill="#b17f6d" stroke="none" stroke-width="0.5" />
<path d="M165.4,150.6 Q166.5,157.2 174.0,157.2 L178.0,157.2 Q185.5,157.2 186.6,150.6" fill="#b17f6d" stroke="#3e2620" stroke-width="0.7"/><path d="M169.6,151.0 Q170.2,154.6 174.8,154.7 M182.4,151.0 Q181.8,154.6 177.2,154.7" fill="none" stroke="#3e2620" stroke-width="0.55"/><path d="M167.0,152.2 L185.0,152.2" fill="none" stroke="#3e2620" stroke-width="0.5" opacity="0.7"/><rect x="173.6" y="156.0" width="4.8" height="1.6" fill="#3e2620" opacity="0.55"/>
<path d="M194.0,151.0 Q194.3,156.6 195.4,156.6 L199.4,156.6 Q200.5,156.6 200.8,151.0" fill="#b17f6d" stroke="#3e2620" stroke-width="0.7"/>
<path d="M205.7,151.0 Q206.6,157.2 212.7,157.2 L216.7,157.2 Q222.8,157.2 223.7,151.0" fill="#b17f6d" stroke="#3e2620" stroke-width="0.7"/><path d="M209.3,151.4 Q209.8,154.7 213.5,154.8 M220.1,151.4 Q219.6,154.7 215.9,154.8" fill="none" stroke="#3e2620" stroke-width="0.55"/><path d="M207.0,152.6 L222.3,152.6" fill="none" stroke="#3e2620" stroke-width="0.5" opacity="0.7"/><rect x="212.3" y="156.0" width="4.8" height="1.6" fill="#3e2620" opacity="0.55"/>
<path d="M227.8,151.0 Q228.1,156.6 229.0,156.6 L233.0,156.6 Q233.9,156.6 234.2,151.0" fill="#b17f6d" stroke="#3e2620" stroke-width="0.7"/>
<path d="M239.3,151.0 Q240.2,157.2 246.3,157.2 L250.3,157.2 Q256.4,157.2 257.3,151.0" fill="#b17f6d" stroke="#3e2620" stroke-width="0.7"/><path d="M242.9,151.4 Q243.4,154.7 247.1,154.8 M253.7,151.4 Q253.2,154.7 249.5,154.8" fill="none" stroke="#3e2620" stroke-width="0.55"/><path d="M240.7,152.6 L256.0,152.6" fill="none" stroke="#3e2620" stroke-width="0.5" opacity="0.7"/><rect x="245.9" y="156.0" width="4.8" height="1.6" fill="#3e2620" opacity="0.55"/>
<path d="M190.2,137.2 Q176.4,139.3 159.6,142.8 L159.6,148.8 Q175.7,147.8 191.7,148.0 L251.3,148.0 L251.3,137.2 Z" fill="#b98775" stroke="#3e2620" stroke-width="0.6" />
<path d="M162.4,148.6 Q164.5,153.1 166.7,148.4 Q168.8,152.9 170.9,148.2 Q173.1,152.8 175.2,148.1 Q177.3,152.7 179.4,148.0 Q181.6,152.6 183.7,148.0 Q185.8,152.6 188.0,148.0 Q190.1,152.6 192.2,148.0 Q194.4,152.6 196.5,148.0 Q198.6,152.6 200.8,148.0 Q202.9,152.6 205.0,148.0 Q207.2,152.6 209.3,148.0 Q211.4,152.6 213.5,148.0 Q215.7,152.6 217.8,148.0 Q219.9,152.6 222.1,148.0 Q224.2,152.6 226.3,148.0 Q228.5,152.6 230.6,148.0 Q232.7,152.6 234.9,148.0 Q237.0,152.6 239.1,148.0 Q241.2,152.6 243.4,148.0 Q245.5,152.6 247.6,148.0 Q249.8,152.6 251.9,148.0" fill="#b98775" stroke="#3e2620" stroke-width="0.75" stroke-linejoin="round"/><polyline points="162.4,148.6 169.9,148.3 177.3,148.1 184.8,148.0 192.2,148.0 199.7,148.0 207.2,148.0 214.6,148.0 222.1,148.0 229.5,148.0 237.0,148.0 244.4,148.0 251.9,148.0" fill="none" stroke="#3e2620" stroke-width="0.5" opacity="0.8"/>
<path d="M163.0,142.7 Q164.9,144.7 166.8,141.9 Q168.7,144.0 170.6,141.2 Q172.5,143.3 174.4,140.5 Q176.3,142.5 178.2,139.8 Q180.1,141.9 182.0,139.1 Q183.9,141.2 185.8,138.5 Q187.7,140.6 189.6,137.9" fill="#b98775" stroke="#3e2620" stroke-width="0.75" stroke-linejoin="round"/>
<path d="M168,144.8 Q184,145.4 251.3,145.5" fill="none" stroke="#5e3b31" stroke-width="0.4" />
<rect x="159.1" y="142.7" width="3.4" height="6.2" rx="1.7" fill="#b17f6d" stroke="#3e2620" stroke-width="0.6" transform="rotate(-12 160.8 145.8)"/>
<path d="M218.6,127.6 Q204,128.6 190.2,131.2 L190.2,136.6 L251.3,136.6 L251.3,127.6 Z" fill="#b98775" stroke="#3e2620" stroke-width="0.6" />
<path d="M192.4,135.6 Q194.6,139.4 196.7,135.6 Q198.9,139.4 201.0,135.6 Q203.2,139.4 205.4,135.6 Q207.5,139.4 209.7,135.6 Q211.8,139.4 214.0,135.6 Q216.2,139.4 218.3,135.6 Q220.5,139.4 222.7,135.6 Q224.8,139.4 227.0,135.6 Q229.1,139.4 231.3,135.6 Q233.5,139.4 235.6,135.6 Q237.8,139.4 239.9,135.6 Q242.1,139.4 244.3,135.6 Q246.4,139.4 248.6,135.6 Q250.7,139.4 252.9,135.6" fill="#b98775" stroke="#3e2620" stroke-width="0.75" stroke-linejoin="round"/><polyline points="192.4,135.6 197.4,135.6 202.5,135.6 207.5,135.6 212.6,135.6 217.6,135.6 222.7,135.6 227.7,135.6 232.7,135.6 237.8,135.6 242.8,135.6 247.9,135.6 252.9,135.6" fill="none" stroke="#3e2620" stroke-width="0.5" opacity="0.8"/>
<path d="M198.6,130.6 Q200.7,133.7 202.8,130.4 Q204.8,133.5 206.9,130.2 Q209.0,133.2 211.1,129.9 Q213.2,133.0 215.2,129.7 Q217.3,132.8 219.4,129.5 Q221.5,132.6 223.6,129.4 Q225.7,132.6 227.7,129.4 Q229.8,132.6 231.9,129.4 Q234.0,132.6 236.1,129.4 Q238.1,132.6 240.2,129.4 Q242.3,132.6 244.4,129.4 Q246.5,132.6 248.5,129.4 Q250.6,132.6 252.7,129.4" fill="#b98775" stroke="#3e2620" stroke-width="0.75" stroke-linejoin="round"/>
<rect x="189.7" y="131.4" width="3.0" height="5.6" rx="1.5" fill="#b17f6d" stroke="#3e2620" stroke-width="0.6" transform="rotate(-12 191.2 134.2)"/>
<path d="M217.2,115 Q222,119 232,119.6 L251.3,119.6 L251.3,127.5 L218.8,127.5 Q217.4,121 217.2,115 Z" fill="#b98775" stroke="#3e2620" stroke-width="0.6" />
<path d="M217.2,115 Q222,119 232,119.6 L251.3,119.6" fill="none" stroke="#3e2620" stroke-width="1.1" />
<rect x="85.6" y="299.0" width="114.4" height="42.0" fill="#b98775" stroke="#3e2620" stroke-width="0.5" />
<line x1="85.6" y1="304.3" x2="199.7" y2="304.3" stroke="#3e2620" stroke-width="0.45"/>
<line x1="85.6" y1="308.8" x2="199.7" y2="308.8" stroke="#3e2620" stroke-width="0.45"/>
<line x1="96.5" y1="311.0" x2="96.5" y2="340.0" stroke="#5e3b31" stroke-width="0.45"/>
<line x1="99.6" y1="311.0" x2="99.6" y2="340.0" stroke="#5e3b31" stroke-width="0.45"/>
<line x1="113.6" y1="311.0" x2="113.6" y2="340.0" stroke="#5e3b31" stroke-width="0.45"/>
<line x1="116.6" y1="311.0" x2="116.6" y2="340.0" stroke="#5e3b31" stroke-width="0.45"/>
<line x1="127.6" y1="311.0" x2="127.6" y2="340.0" stroke="#5e3b31" stroke-width="0.45"/>
<line x1="142.8" y1="311.0" x2="142.8" y2="340.0" stroke="#5e3b31" stroke-width="0.45"/>
<line x1="156.8" y1="311.0" x2="156.8" y2="340.0" stroke="#5e3b31" stroke-width="0.45"/>
<line x1="168.2" y1="311.0" x2="168.2" y2="340.0" stroke="#5e3b31" stroke-width="0.45"/>
<line x1="171.5" y1="311.0" x2="171.5" y2="340.0" stroke="#5e3b31" stroke-width="0.45"/>
<line x1="188.6" y1="311.0" x2="188.6" y2="340.0" stroke="#5e3b31" stroke-width="0.45"/>
<rect x="86.4" y="301.6" width="4.4" height="38.9" fill="#b17f6d" stroke="#3e2620" stroke-width="0.55" /><rect x="85.4" y="300.0" width="6.4" height="1.8" fill="#b17f6d" stroke="#3e2620" stroke-width="0.5" rx="0.6"/>
<rect x="122.0" y="301.6" width="4.4" height="38.9" fill="#b17f6d" stroke="#3e2620" stroke-width="0.55" /><rect x="121.0" y="300.0" width="6.4" height="1.8" fill="#b17f6d" stroke="#3e2620" stroke-width="0.5" rx="0.6"/>
<rect x="158.4" y="301.6" width="4.4" height="38.9" fill="#b17f6d" stroke="#3e2620" stroke-width="0.55" /><rect x="157.4" y="300.0" width="6.4" height="1.8" fill="#b17f6d" stroke="#3e2620" stroke-width="0.5" rx="0.6"/>
<rect x="190.9" y="301.6" width="4.4" height="38.9" fill="#b17f6d" stroke="#3e2620" stroke-width="0.55" /><rect x="189.9" y="300.0" width="6.4" height="1.8" fill="#b17f6d" stroke="#3e2620" stroke-width="0.5" rx="0.6"/>
<rect x="85.6" y="289.0" width="113.4" height="12.2" fill="#b17f6d" stroke="none" stroke-width="0.5" />
<path d="M77.2,292.6 Q78.4,300.8 87.6,300.8 L91.6,300.8 Q100.8,300.8 102.0,292.6" fill="#b17f6d" stroke="#3e2620" stroke-width="0.7"/><path d="M82.2,293.0 Q82.8,297.5 88.4,297.7 M97.0,293.0 Q96.4,297.5 90.8,297.7" fill="none" stroke="#3e2620" stroke-width="0.55"/><path d="M79.1,294.2 L100.1,294.2" fill="none" stroke="#3e2620" stroke-width="0.5" opacity="0.7"/><rect x="87.2" y="299.6" width="4.8" height="1.6" fill="#3e2620" opacity="0.55"/>
<path d="M112.0,292.6 Q113.2,300.8 122.2,300.8 L126.2,300.8 Q135.2,300.8 136.4,292.6" fill="#b17f6d" stroke="#3e2620" stroke-width="0.7"/><path d="M116.9,293.0 Q117.5,297.5 123.0,297.7 M131.5,293.0 Q130.9,297.5 125.4,297.7" fill="none" stroke="#3e2620" stroke-width="0.55"/><path d="M113.8,294.2 L134.6,294.2" fill="none" stroke="#3e2620" stroke-width="0.5" opacity="0.7"/><rect x="121.8" y="299.6" width="4.8" height="1.6" fill="#3e2620" opacity="0.55"/>
<path d="M148.4,292.6 Q149.6,300.8 158.6,300.8 L162.6,300.8 Q171.6,300.8 172.8,292.6" fill="#b17f6d" stroke="#3e2620" stroke-width="0.7"/><path d="M153.3,293.0 Q153.9,297.5 159.4,297.7 M167.9,293.0 Q167.3,297.5 161.8,297.7" fill="none" stroke="#3e2620" stroke-width="0.55"/><path d="M150.2,294.2 L171.0,294.2" fill="none" stroke="#3e2620" stroke-width="0.5" opacity="0.7"/><rect x="158.2" y="299.6" width="4.8" height="1.6" fill="#3e2620" opacity="0.55"/>
<path d="M180.4,292.6 Q181.6,300.8 190.6,300.8 L194.6,300.8 Q203.6,300.8 204.8,292.6" fill="#b17f6d" stroke="#3e2620" stroke-width="0.7"/><path d="M185.3,293.0 Q185.9,297.5 191.4,297.7 M199.9,293.0 Q199.3,297.5 193.8,297.7" fill="none" stroke="#3e2620" stroke-width="0.55"/><path d="M182.2,294.2 L203.0,294.2" fill="none" stroke="#3e2620" stroke-width="0.5" opacity="0.7"/><rect x="190.2" y="299.6" width="4.8" height="1.6" fill="#3e2620" opacity="0.55"/>
<rect x="85.0" y="298.3" width="7.8" height="3.6" fill="#b17f6d" stroke="#3e2620" stroke-width="0.6" rx="1.3"/>
<rect x="120.3" y="298.3" width="7.8" height="3.6" fill="#b17f6d" stroke="#3e2620" stroke-width="0.6" rx="1.3"/>
<rect x="156.7" y="298.3" width="7.8" height="3.6" fill="#b17f6d" stroke="#3e2620" stroke-width="0.6" rx="1.3"/>
<rect x="189.2" y="298.3" width="7.8" height="3.6" fill="#b17f6d" stroke="#3e2620" stroke-width="0.6" rx="1.3"/>
<path d="M94.8,279.8 Q81.1,282.2 64.4,286.0 L64.4,292.0 Q80.4,290.2 96.3,290.4 L199.2,290.4 L199.2,279.8 Z" fill="#b98775" stroke="#3e2620" stroke-width="0.6" />
<path d="M67.2,291.7 Q69.8,296.8 72.5,291.2 Q75.1,296.4 77.8,290.8 Q80.4,296.1 83.0,290.6 Q85.7,295.9 88.3,290.4 Q91.0,295.8 93.6,290.4 Q96.2,295.8 98.9,290.4 Q101.5,295.8 104.2,290.4 Q106.8,295.8 109.4,290.4 Q112.1,295.8 114.7,290.4 Q117.4,295.8 120.0,290.4 Q122.6,295.8 125.3,290.4 Q127.9,295.8 130.6,290.4 Q133.2,295.8 135.8,290.4 Q138.5,295.8 141.1,290.4 Q143.8,295.8 146.4,290.4 Q149.0,295.8 151.7,290.4 Q154.3,295.8 157.0,290.4 Q159.6,295.8 162.2,290.4 Q164.9,295.8 167.5,290.4 Q170.2,295.8 172.8,290.4 Q175.4,295.8 178.1,290.4 Q180.7,295.8 183.4,290.4 Q186.0,295.8 188.6,290.4 Q191.3,295.8 193.9,290.4 Q196.6,295.8 199.2,290.4" fill="#b98775" stroke="#3e2620" stroke-width="0.75" stroke-linejoin="round"/><polyline points="67.2,291.7 78.2,290.8 89.2,290.4 100.2,290.4 111.2,290.4 122.2,290.4 133.2,290.4 144.2,290.4 155.2,290.4 166.2,290.4 177.2,290.4 188.2,290.4 199.2,290.4" fill="none" stroke="#3e2620" stroke-width="0.5" opacity="0.8"/>
<path d="M68.0,285.8 Q69.9,287.8 71.7,285.0 Q73.6,287.0 75.4,284.2 Q77.3,286.2 79.1,283.4 Q81.0,285.4 82.9,282.6 Q84.7,284.7 86.6,281.9 Q88.4,283.9 90.3,281.2 Q92.1,283.3 94.0,280.5" fill="#b98775" stroke="#3e2620" stroke-width="0.75" stroke-linejoin="round"/>
<path d="M72,287.4 Q90,287.9 199,288.0" fill="none" stroke="#5e3b31" stroke-width="0.4" />
<rect x="63.9" y="285.9" width="3.4" height="6.2" rx="1.7" fill="#b17f6d" stroke="#3e2620" stroke-width="0.6" transform="rotate(-12 65.6 289.0)"/>
<path d="M125,271.4 Q108,272.2 94.6,274.2 L94.6,279.6 L199.2,279.6 L199.2,271.4 Z" fill="#b98775" stroke="#3e2620" stroke-width="0.6" />
<line x1="97.0" y1="279.4" x2="199.2" y2="279.4" stroke="#5e3b31" stroke-width="0.45"/>
<rect x="94.1" y="274.3" width="3.0" height="5.4" rx="1.5" fill="#b17f6d" stroke="#3e2620" stroke-width="0.6" transform="rotate(-12 95.6 277.0)"/>
<path d="M122,257.4 Q126,261.6 136,262.2 L199.2,262.2 L199.2,271.6 L124.6,271.6 Q122.4,265 122,257.4 Z" fill="#b98775" stroke="#3e2620" stroke-width="0.6" />
<path d="M122,257.4 Q126,261.6 136,262.2 L199.2,262.2" fill="none" stroke="#3e2620" stroke-width="1.1" />
<rect x="199.7" y="253.0" width="51.6" height="88.0" fill="#b98775" stroke="#3e2620" stroke-width="0.55" />
<line x1="199.7" y1="265.8" x2="251.3" y2="265.8" stroke="#3e2620" stroke-width="0.45"/>
<line x1="199.7" y1="270.0" x2="251.3" y2="270.0" stroke="#3e2620" stroke-width="0.45"/>
<line x1="199.7" y1="297.0" x2="251.3" y2="297.0" stroke="#3e2620" stroke-width="0.45"/>
<line x1="199.7" y1="302.0" x2="251.3" y2="302.0" stroke="#3e2620" stroke-width="0.45"/>
<line x1="203.4" y1="262.0" x2="203.4" y2="340.0" stroke="#5e3b31" stroke-width="0.45"/>
<line x1="205.8" y1="262.0" x2="205.8" y2="340.0" stroke="#5e3b31" stroke-width="0.45"/>
<line x1="229.3" y1="302.0" x2="229.3" y2="340.0" stroke="#5e3b31" stroke-width="0.45"/>
<line x1="246.9" y1="270.0" x2="246.9" y2="340.0" stroke="#5e3b31" stroke-width="0.45"/>
<rect x="220.6" y="265.2" width="7.0" height="75.3" fill="#b17f6d" stroke="#3e2620" stroke-width="0.55" /><rect x="219.6" y="263.6" width="9.0" height="1.8" fill="#b17f6d" stroke="#3e2620" stroke-width="0.5" rx="0.6"/>
<rect x="199.7" y="253.0" width="51.6" height="11.0" fill="#b17f6d" stroke="none" stroke-width="0.5" />
<path d="M199.0,254.0 Q199.6,262.0 202.5,262.0 L206.5,262.0 Q209.4,262.0 210.0,254.0" fill="#b17f6d" stroke="#3e2620" stroke-width="0.7"/><path d="M201.2,254.4 Q201.5,258.8 203.3,259.0 M207.8,254.4 Q207.5,258.8 205.7,259.0" fill="none" stroke="#3e2620" stroke-width="0.55"/><path d="M199.8,255.6 L209.2,255.6" fill="none" stroke="#3e2620" stroke-width="0.5" opacity="0.7"/><rect x="202.1" y="260.8" width="4.8" height="1.6" fill="#3e2620" opacity="0.55"/>
<path d="M212.1,254.0 Q213.3,263.6 222.1,263.6 L226.1,263.6 Q234.9,263.6 236.1,254.0" fill="#b17f6d" stroke="#3e2620" stroke-width="0.7"/><path d="M216.9,254.4 Q217.5,259.8 222.9,260.0 M231.3,254.4 Q230.7,259.8 225.3,260.0" fill="none" stroke="#3e2620" stroke-width="0.55"/><path d="M213.9,255.6 L234.3,255.6" fill="none" stroke="#3e2620" stroke-width="0.5" opacity="0.7"/><rect x="221.7" y="262.4" width="4.8" height="1.6" fill="#3e2620" opacity="0.55"/>
<path d="M248.3,254 Q247.3,262 236.3,264.6 M245.3,256 Q243.3,261 236.3,262.4" fill="none" stroke="#3e2620" stroke-width="0.5" />
<path d="M251.3,232.2 L245.8,232.4 L184,249.2 L184,252.6 L251.3,252.6 Z" fill="#b98775" stroke="#3e2620" stroke-width="0.6" />
<path d="M187.0,249.2 Q188.9,251.3 190.9,248.1 Q192.8,250.2 194.8,247.1 Q196.7,249.1 198.7,246.0 Q200.6,248.1 202.5,245.0 Q204.5,247.0 206.4,243.9 Q208.4,246.0 210.3,242.8 Q212.3,244.9 214.2,241.8 Q216.2,243.9 218.1,240.7 Q220.0,242.8 222.0,239.7 Q223.9,241.7 225.9,238.6 Q227.8,240.7 229.8,237.6 Q231.7,239.6 233.6,236.5 Q235.6,238.6 237.5,235.4 Q239.5,237.5 241.4,234.4 Q243.4,236.5 245.3,233.3" fill="#b98775" stroke="#3e2620" stroke-width="0.75" stroke-linejoin="round"/>
<path d="M246.8,235.2 L189,251" fill="none" stroke="#3e2620" stroke-width="0.45" opacity="0.8"/>
<path d="M186.6,252.4 Q188.7,257.0 190.7,252.4 Q192.8,257.0 194.9,252.4 Q196.9,257.0 199.0,252.4 Q201.1,257.0 203.1,252.4 Q205.2,257.0 207.3,252.4 Q209.3,257.0 211.4,252.4 Q213.5,257.0 215.5,252.4 Q217.6,257.0 219.7,252.4 Q221.7,257.0 223.8,252.4 Q225.8,257.0 227.9,252.4 Q230.0,257.0 232.0,252.4 Q234.1,257.0 236.2,252.4 Q238.2,257.0 240.3,252.4 Q242.4,257.0 244.4,252.4 Q246.5,257.0 248.6,252.4 Q250.6,257.0 252.7,252.4" fill="#b98775" stroke="#3e2620" stroke-width="0.75" stroke-linejoin="round"/><polyline points="186.6,252.4 192.1,252.4 197.6,252.4 203.1,252.4 208.6,252.4 214.1,252.4 219.7,252.4 225.2,252.4 230.7,252.4 236.2,252.4 241.7,252.4 247.2,252.4 252.7,252.4" fill="none" stroke="#3e2620" stroke-width="0.5" opacity="0.8"/>
<rect x="183.5" y="248.4" width="3.0" height="5.2" rx="1.5" fill="#b17f6d" stroke="#3e2620" stroke-width="0.6" transform="rotate(-12 185.0 251.0)"/>
<rect x="70.8" y="340.5" width="180.5" height="40.0" fill="#b98775" stroke="#3e2620" stroke-width="0.5" />
<rect x="70.8" y="340.4" width="180.5" height="1.9" fill="#6a4438" stroke="#3e2620" stroke-width="0.6" />
<rect x="70.8" y="351.9" width="180.5" height="1.9" fill="#6a4438" stroke="#3e2620" stroke-width="0.6" />
<rect x="70.8" y="365.1" width="180.5" height="1.9" fill="#6a4438" stroke="#3e2620" stroke-width="0.6" />
<path d="M128.8,380.2 L146.4,367 L146.4,380.2 Z" fill="#b17f6d" stroke="#3e2620" stroke-width="0.5" /><line x1="133.2" y1="380.2" x2="146.4" y2="370.3" stroke="#3e2620" stroke-width="0.4"/><line x1="137.6" y1="380.2" x2="146.4" y2="373.6" stroke="#3e2620" stroke-width="0.4"/><line x1="142.0" y1="380.2" x2="146.4" y2="376.9" stroke="#3e2620" stroke-width="0.4"/>
<path d="M169.5,366 L184,354 L184,366 Z" fill="#b17f6d" stroke="#3e2620" stroke-width="0.5" /><line x1="173.1" y1="366.0" x2="184.0" y2="357.0" stroke="#3e2620" stroke-width="0.4"/><line x1="176.8" y1="366.0" x2="184.0" y2="360.0" stroke="#3e2620" stroke-width="0.4"/><line x1="180.4" y1="366.0" x2="184.0" y2="363.0" stroke="#3e2620" stroke-width="0.4"/>
<path d="M207.6,352.4 L222.4,341.8 L222.4,352.4 Z" fill="#b17f6d" stroke="#3e2620" stroke-width="0.5" /><line x1="211.3" y1="352.4" x2="222.4" y2="344.4" stroke="#3e2620" stroke-width="0.4"/><line x1="215.0" y1="352.4" x2="222.4" y2="347.1" stroke="#3e2620" stroke-width="0.4"/><line x1="218.7" y1="352.4" x2="222.4" y2="349.8" stroke="#3e2620" stroke-width="0.4"/>
<rect x="70.6" y="337.6" width="3.7" height="42.8" fill="#b17f6d" stroke="#3e2620" stroke-width="0.75" /><ellipse cx="72.4" cy="337.79999999999995" rx="1.9500000000000002" ry="1.5" fill="#b17f6d" stroke="#3e2620" stroke-width="0.6"/>
<rect x="95.2" y="337.6" width="3.7" height="42.8" fill="#b17f6d" stroke="#3e2620" stroke-width="0.75" /><ellipse cx="97" cy="337.79999999999995" rx="1.9500000000000002" ry="1.5" fill="#b17f6d" stroke="#3e2620" stroke-width="0.6"/>
<rect x="120.7" y="337.6" width="3.7" height="42.8" fill="#b17f6d" stroke="#3e2620" stroke-width="0.75" /><ellipse cx="122.5" cy="337.79999999999995" rx="1.9500000000000002" ry="1.5" fill="#b17f6d" stroke="#3e2620" stroke-width="0.6"/>
<rect x="146.1" y="337.6" width="3.7" height="42.8" fill="#b17f6d" stroke="#3e2620" stroke-width="0.75" /><ellipse cx="147.9" cy="337.79999999999995" rx="1.9500000000000002" ry="1.5" fill="#b17f6d" stroke="#3e2620" stroke-width="0.6"/>
<rect x="222.3" y="337.6" width="3.7" height="42.8" fill="#b17f6d" stroke="#3e2620" stroke-width="0.75" /><ellipse cx="224.2" cy="337.79999999999995" rx="1.9500000000000002" ry="1.5" fill="#b17f6d" stroke="#3e2620" stroke-width="0.6"/>
<rect x="171.5" y="337.6" width="3.7" height="28.8" fill="#b17f6d" stroke="#3e2620" stroke-width="0.75" /><ellipse cx="173.3" cy="337.79999999999995" rx="1.9500000000000002" ry="1.5" fill="#b17f6d" stroke="#3e2620" stroke-width="0.6"/>
<rect x="196.3" y="337.6" width="3.7" height="15.4" fill="#b17f6d" stroke="#3e2620" stroke-width="0.75" /><ellipse cx="198.2" cy="337.79999999999995" rx="1.9500000000000002" ry="1.5" fill="#b17f6d" stroke="#3e2620" stroke-width="0.6"/>
<rect x="184.0" y="350.8" width="3.7" height="29.6" fill="#b17f6d" stroke="#3e2620" stroke-width="0.75" /><ellipse cx="185.8" cy="351.0" rx="1.9500000000000002" ry="1.5" fill="#b17f6d" stroke="#3e2620" stroke-width="0.6"/>
<rect x="163.7" y="363.6" width="2.6" height="2.8" fill="#b17f6d" stroke="#3e2620" stroke-width="0.75" /><ellipse cx="165" cy="363.79999999999995" rx="1.4000000000000001" ry="1.5" fill="#b17f6d" stroke="#3e2620" stroke-width="0.6"/>
<line x1="64.7" y1="380.6" x2="251.3" y2="380.6" stroke="#3e2620" stroke-width="1.0"/></g>
<use href="#bhalf" transform="translate(496.6,0) scale(-1,1)"/>
<rect x="230.9" y="113.3" width="4.1" height="6.3" fill="#1d3fa4"/>
<polygon points="173.20000000000002,173.6 170.10000000000002,178.3 173.3,178.3" fill="#45b035"/>
<polygon points="323.40000000000003,173.6 326.5,178.3 323.3,178.3" fill="#45b035"/>
<polygon points="158.4,237.4 155.3,242.10000000000002 158.5,242.10000000000002" fill="#45b035"/>
<polygon points="338.20000000000005,237.4 341.3,242.10000000000002 338.1,242.10000000000002" fill="#45b035"/>
<polygon points="86.4,317.20000000000005 83.3,321.90000000000003 86.5,321.90000000000003" fill="#45b035"/>
<polygon points="410.20000000000005,317.20000000000005 413.3,321.90000000000003 410.1,321.90000000000003" fill="#45b035"/>
<rect x="174.7" y="187.6" width="1.6" height="6.400000000000006" fill="#b94fb8"/>
<rect x="320.3" y="187.6" width="1.6" height="6.400000000000006" fill="#b94fb8"/>
<rect x="158.79999999999998" y="249.3" width="1.6" height="6.0" fill="#b94fb8"/>
<rect x="336.2" y="249.3" width="1.6" height="6.0" fill="#b94fb8"/>
<rect x="87.3" y="328.3" width="1.6" height="5.599999999999966" fill="#b94fb8"/>
<rect x="407.7" y="328.3" width="1.6" height="5.599999999999966" fill="#b94fb8"/>
<rect x="83.9" y="332.9" width="2.9" height="7.8" fill="#45b035"/>
<rect x="409.8" y="332.9" width="2.9" height="7.8" fill="#45b035"/>
<rect x="246.6" y="333.7" width="3.2" height="8.5" fill="#45b035"/>
<rect x="132.1" y="266.4" width="4.800000000000011" height="1.2" fill="#4a3020"/><rect x="130.6" y="265.6" width="2.4" height="2.8" rx="0.6" fill="#e9b416"/><rect x="136.0" y="265.6" width="2.4" height="2.8" rx="0.6" fill="#e9b416"/>
<rect x="362.5" y="266.4" width="6.300000000000011" height="1.2" fill="#4a3020"/><rect x="361.0" y="265.6" width="2.4" height="2.8" rx="0.6" fill="#e9b416"/><rect x="367.90000000000003" y="265.6" width="2.4" height="2.8" rx="0.6" fill="#e9b416"/>
<rect x="245.6" y="371.4" width="5.400000000000006" height="1.2" fill="#4a3020"/><rect x="244.1" y="370.6" width="2.4" height="2.8" rx="0.6" fill="#e9b416"/><rect x="250.1" y="370.6" width="2.4" height="2.8" rx="0.6" fill="#e9b416"/>
<circle cx="365.9" cy="255.9" r="3.4" fill="#1d3fa4"/>
<text class="k" x="238.36" y="104.94" font-size="9.1">风速风向仪</text><polyline points="283.9,107.2 238.1,107.2 233.7,113.3" fill="none" stroke="#5c5c5c" stroke-width="0.8"/>
<text class="k" x="127.23" y="159.99" font-size="9.1">倾角仪</text><polyline points="126.3,161.9 154.2,161.9 172.0,175.4" fill="none" stroke="#5c5c5c" stroke-width="0.8"/>
<text class="k" x="346.54" y="162.9" font-size="9">倾角仪</text><polyline points="374.4,165.3 345.6,165.3 325.3,175.8" fill="none" stroke="#5c5c5c" stroke-width="0.8"/>
<text class="k" x="107.34" y="239.34" font-size="8.9">应变计</text><polyline points="106.0,241.2 132.2,241.2 159.3,251.7" fill="none" stroke="#5c5c5c" stroke-width="0.8"/>
<text class="k" x="86.74" y="255.15" font-size="8.7">裂缝计</text><polyline points="86.1,258.1 111.0,258.1 122.0,263.6" fill="none" stroke="#5c5c5c" stroke-width="0.8"/>
<text class="k" x="391.04" y="236.85" font-size="9.2">温湿度计</text><polyline points="428.0,239.3 391.0,239.3 369.3,253.9" fill="none" stroke="#5c5c5c" stroke-width="0.8"/>
<text class="k" x="394.14" y="253.09" font-size="8.9">裂缝计</text><polyline points="421.5,255.3 390.2,255.3 374.4,264.4" fill="none" stroke="#5c5c5c" stroke-width="0.8"/>
<text class="k" x="31.14" y="307.07" font-size="8.9">倾角仪</text><polyline points="30.2,309.2 57.6,309.2 84.4,320.3" fill="none" stroke="#5c5c5c" stroke-width="0.8"/>
<text class="k" x="11.06" y="321.09" font-size="9.1">静力水准仪</text><polyline points="10.5,323.6 56.0,323.6 83.9,332.9" fill="none" stroke="#5c5c5c" stroke-width="0.8"/>
<text class="k" x="435.64" y="304.69" font-size="8.9">倾角仪</text><polyline points="463.0,306.8 434.2,306.8 412.2,319.8" fill="none" stroke="#5c5c5c" stroke-width="0.8"/>
<text class="k" x="433.76" y="320.81" font-size="9">静力水准仪</text><polyline points="479.2,323.6 433.4,323.6 412.2,332.9" fill="none" stroke="#5c5c5c" stroke-width="0.8"/>
<text class="k" x="268.74" y="394.48" font-size="8.8">裂缝计</text><polyline points="295.3,396.4 267.3,396.4 252.0,372.4" fill="none" stroke="#5c5c5c" stroke-width="0.8"/>
</g>
<path d="M376,405.2 Q424,413.6 467.5,406.6 L467.5,396.8 L502.5,410.2 L467.5,424.2 L467.5,418.8 Q424,421.5 376,405.2 Z" fill="#000"/>
</svg>
</body></html>
